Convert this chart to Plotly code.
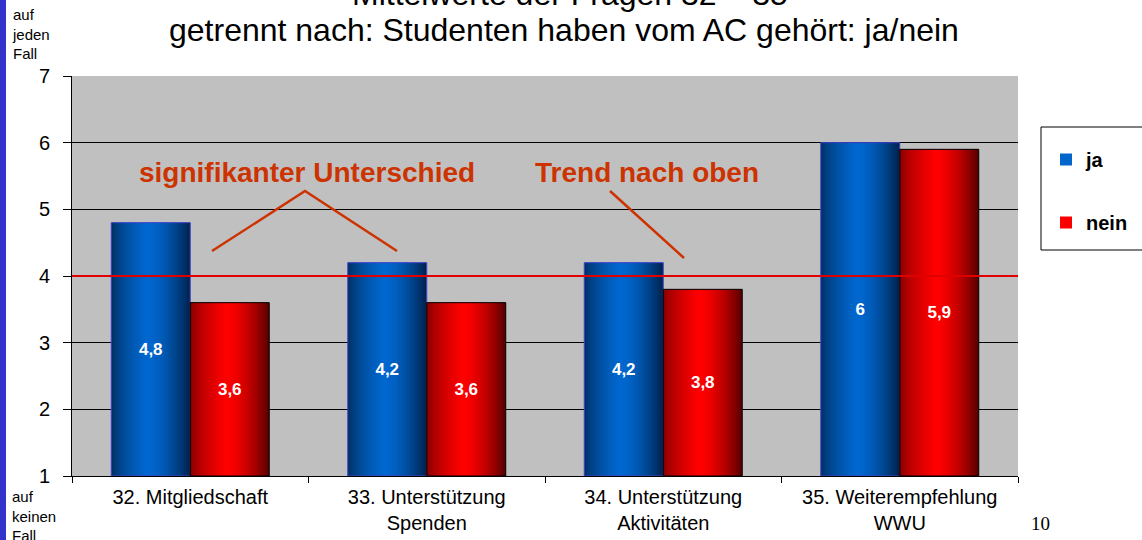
import plotly.graph_objects as go

FONT = "Liberation Sans, Arial, sans-serif"

categories = [
    "32. Mitgliedschaft",
    "33. Unterstützung<br>Spenden",
    "34. Unterstützung<br>Aktivitäten",
    "35. Weiterempfehlung<br>WWU",
]
ja = [4.8, 4.2, 4.2, 6.0]
nein = [3.6, 3.6, 3.8, 5.9]
y_ticks = [1, 2, 3, 4, 5, 6, 7]

BAR_W = 0.334
N_SLICES = 40

# edge-left, centre, edge-right colours for the cylinder-like shading, outline
_SHADES = {
    "ja": ((0, 42, 88), (0, 104, 208), (0, 34, 76), "#4040cc"),
    "nein": ((120, 0, 0), (255, 0, 0), (85, 0, 0), "#000000"),
}


def _mix(a, b, t):
    return tuple(int(round(a[k] + (b[k] - a[k]) * t)) for k in range(3))


def shade(name, t, peak=0.45):
    left, mid, right, _ = _SHADES[name]
    if t < peak:
        c = _mix(left, mid, (t / peak) ** 0.6)
    else:
        c = _mix(mid, right, ((t - peak) / (1 - peak)) ** 1.6)
    return "rgb(%d,%d,%d)" % c


def fmt(v):
    return f"{v:g}".replace(".", ",")


def add_series(fig, name, values, start):
    base = [1] * len(values)
    heights = [v - 1 for v in values]
    step = BAR_W / N_SLICES
    for i in range(N_SLICES):
        t = (i + 0.5) / N_SLICES
        fig.add_trace(
            go.Bar(
                x=categories, y=heights, base=base,
                offset=start + i * step,
                width=step * (1.6 if i < N_SLICES - 1 else 1.0),
                marker=dict(color=shade(name, t), line=dict(width=0)),
                name=name, legendgroup=name,
                showlegend=(i == N_SLICES // 2),
                hoverinfo="skip",
            )
        )
    # outline + value labels
    fig.add_trace(
        go.Bar(
            x=categories, y=heights, base=base,
            offset=start, width=BAR_W,
            marker=dict(color="rgba(0,0,0,0)", line=dict(color=_SHADES[name][3], width=1)),
            text=[fmt(v) for v in values],
            textposition="inside", insidetextanchor="middle", textangle=0,
            textfont=dict(family=FONT, size=17, color="white", weight="bold"),
            name=name, legendgroup=name, showlegend=False,
            customdata=values, hovertemplate="%{x}: %{customdata}<extra></extra>",
        )
    )


fig = go.Figure()
add_series(fig, "ja", ja, -BAR_W)
add_series(fig, "nein", nein, 0)

L, R, T, B = 72, 124, 76, 64
W, H = 1142, 540
pw, ph = W - L - R, H - T - B


def px(x):
    return (x - L) / pw


def py(y):
    return (H - B - y) / ph


RED_TXT = "#cc3300"
shapes = [
    # reference line at 4
    dict(type="line", xref="paper", yref="y", x0=0, x1=1, y0=4, y1=4,
         line=dict(color="#e00000", width=2), layer="above"),
    # pointer lines for the annotations
    dict(type="path", xref="paper", yref="paper",
         path=f"M {px(212)} {py(251)} L {px(305)} {py(191)} L {px(397)} {py(251)}",
         line=dict(color=RED_TXT, width=2.5), layer="above"),
    dict(type="line", xref="paper", yref="paper",
         x0=px(610), y0=py(191), x1=px(684), y1=py(258),
         line=dict(color=RED_TXT, width=2.5), layer="above"),
    # blue slide strip on the left
    dict(type="rect", xref="paper", yref="paper",
         x0=px(0), x1=px(6), y0=py(H), y1=py(0),
         fillcolor="#3333cc", line=dict(width=0), layer="above"),
    # legend frame
    dict(type="rect", xref="paper", yref="paper",
         x0=px(1041), x1=px(1150), y0=py(250), y1=py(127),
         fillcolor="white", line=dict(color="black", width=1), layer="below"),
]

annotations = [
    dict(text="Mittelwerte der Fragen 32 – 35",
         xref="paper", yref="paper", x=px(570), y=py(-6), xanchor="center", yanchor="middle",
         showarrow=False, font=dict(family=FONT, size=32, color="black")),
    dict(text="getrennt nach: Studenten haben vom AC gehört: ja/nein",
         xref="paper", yref="paper", x=px(564), y=py(30), xanchor="center", yanchor="middle",
         showarrow=False, font=dict(family=FONT, size=32, color="black")),
    dict(text="signifikanter Unterschied", xref="paper", yref="paper",
         x=px(307), y=py(172), xanchor="center", yanchor="middle", showarrow=False,
         font=dict(family=FONT, size=28, color=RED_TXT, weight="bold")),
    dict(text="Trend nach oben", xref="paper", yref="paper",
         x=px(647), y=py(172), xanchor="center", yanchor="middle", showarrow=False,
         font=dict(family=FONT, size=28, color=RED_TXT, weight="bold")),
    dict(text="auf<br>jeden<br>Fall", xref="paper", yref="paper",
         x=px(10), y=py(4), xanchor="left", yanchor="top", align="left",
         showarrow=False, font=dict(family=FONT, size=15, color="black")),
    dict(text="auf<br>keinen<br>Fall", xref="paper", yref="paper",
         x=px(10), y=py(486), xanchor="left", yanchor="top", align="left",
         showarrow=False, font=dict(family=FONT, size=15, color="black")),
    dict(text="10", xref="paper", yref="paper",
         x=px(1040), y=py(523), xanchor="center", yanchor="middle", showarrow=False,
         font=dict(family="Liberation Serif, Times New Roman, serif", size=19, color="black")),
]

fig.update_layout(
    width=W, height=H, autosize=False,
    margin=dict(l=L, r=R, t=T, b=B, autoexpand=False),
    barmode="overlay",
    plot_bgcolor="#c0c0c0",
    paper_bgcolor="white",
    font=dict(family=FONT, color="black"),
    shapes=shapes,
    annotations=annotations,
    legend=dict(
        x=px(1046), y=py(140), xanchor="left", yanchor="top",
        bgcolor="rgba(0,0,0,0)", borderwidth=0,
        font=dict(family=FONT, size=20, weight="bold"),
        tracegroupgap=34, itemwidth=30,
    ),
    xaxis=dict(
        showline=True, linecolor="black", linewidth=1,
        ticks="outside", tickson="boundaries", ticklen=6, tickcolor="black",
        tickfont=dict(family=FONT, size=20), showgrid=False, ticklabelstandoff=3,
    ),
    yaxis=dict(
        range=[1, 7], tickvals=y_ticks,
        showline=True, linecolor="black", linewidth=1,
        ticks="outside", ticklen=8, tickcolor="black", ticklabelstandoff=9,
        tickfont=dict(family=FONT, size=20),
        showgrid=True, gridcolor="black", gridwidth=1, zeroline=False,
    ),
)

fig.write_html(
    "out.html",
    config={"displayModeBar": False},
    post_script="document.body.style.margin='0px';",
)
